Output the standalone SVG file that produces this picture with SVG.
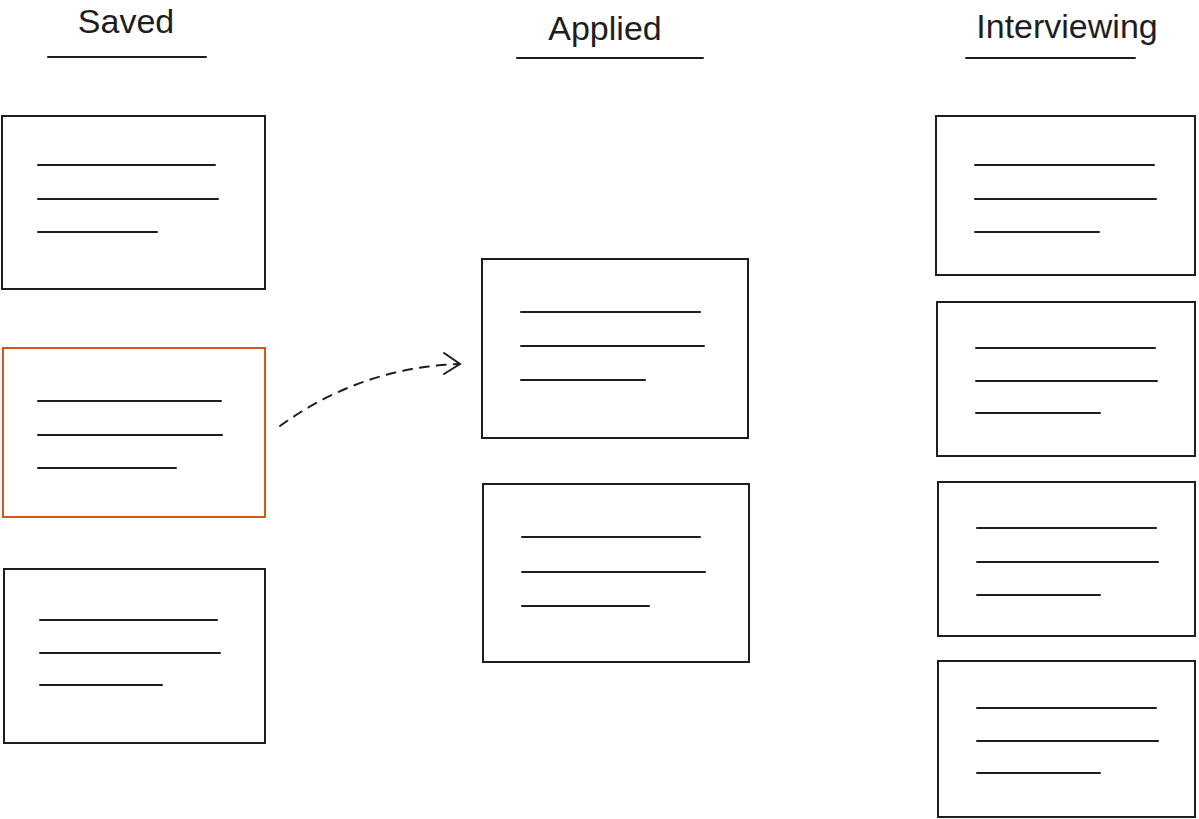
<svg xmlns="http://www.w3.org/2000/svg" width="1199" height="819" viewBox="0 0 1199 819">
<style>
.card{fill:#fff;stroke:#1e1e1e;stroke-width:2}
.sel{stroke:#d4561c}
.ln{stroke:#1e1e1e;stroke-width:2;stroke-linecap:round}
.hd{font-family:"Liberation Sans",sans-serif;font-size:34px;fill:#1e1e1e;text-anchor:middle}
.conn{fill:none;stroke:#1e1e1e;stroke-width:2;stroke-linecap:round}
</style>
<rect width="1199" height="819" fill="#fff"/>
<g id="h-saved"><text class="hd" x="126" y="33">Saved</text><line class="ln" x1="48" y1="57" x2="206" y2="57"/></g>
<g id="h-applied"><text class="hd" x="605" y="40">Applied</text><line class="ln" x1="517" y1="58" x2="703" y2="58"/></g>
<g id="h-interviewing"><text class="hd" x="1067" y="38">Interviewing</text><line class="ln" x1="966" y1="58" x2="1135" y2="58"/></g>
<g id="s1"><rect class="card" x="2" y="116" width="263" height="173"/><line class="ln" x1="38" y1="165" x2="215" y2="165"/><line class="ln" x1="38" y1="199" x2="218" y2="199"/><line class="ln" x1="38" y1="232" x2="157" y2="232"/></g>
<g id="s2"><rect class="card sel" x="3" y="348" width="262" height="169"/><line class="ln" x1="38" y1="401" x2="221" y2="401"/><line class="ln" x1="38" y1="435" x2="222" y2="435"/><line class="ln" x1="38" y1="468" x2="176" y2="468"/></g>
<g id="s3"><rect class="card" x="4" y="569" width="261" height="174"/><line class="ln" x1="40" y1="620" x2="217" y2="620"/><line class="ln" x1="40" y1="653" x2="220" y2="653"/><line class="ln" x1="40" y1="685" x2="162" y2="685"/></g>
<g id="a1"><rect class="card" x="482" y="259" width="266" height="179"/><line class="ln" x1="521" y1="312" x2="700" y2="312"/><line class="ln" x1="521" y1="346" x2="704" y2="346"/><line class="ln" x1="521" y1="380" x2="645" y2="380"/></g>
<g id="a2"><rect class="card" x="483" y="484" width="266" height="178"/><line class="ln" x1="522" y1="537" x2="700" y2="537"/><line class="ln" x1="522" y1="572" x2="705" y2="572"/><line class="ln" x1="522" y1="606" x2="649" y2="606"/></g>
<g id="i1"><rect class="card" x="936" y="116" width="259" height="159"/><line class="ln" x1="975" y1="165" x2="1154" y2="165"/><line class="ln" x1="975" y1="199" x2="1156" y2="199"/><line class="ln" x1="975" y1="232" x2="1099" y2="232"/></g>
<g id="i2"><rect class="card" x="937" y="302" width="258" height="154"/><line class="ln" x1="976" y1="348" x2="1155" y2="348"/><line class="ln" x1="976" y1="381" x2="1157" y2="381"/><line class="ln" x1="976" y1="413" x2="1100" y2="413"/></g>
<g id="i3"><rect class="card" x="938" y="482" width="257" height="154"/><line class="ln" x1="977" y1="528" x2="1156" y2="528"/><line class="ln" x1="977" y1="562" x2="1158" y2="562"/><line class="ln" x1="977" y1="595" x2="1100" y2="595"/></g>
<g id="i4"><rect class="card" x="938" y="661" width="257" height="156"/><line class="ln" x1="977" y1="708" x2="1156" y2="708"/><line class="ln" x1="977" y1="741" x2="1158" y2="741"/><line class="ln" x1="977" y1="773" x2="1100" y2="773"/></g>
<g id="connectors">
<path class="conn" d="M280 426 Q360 368 458 364" stroke-dasharray="9 8"/>
<path class="conn" d="M444 353 L460 364 L444 374"/>
</g>
</svg>
